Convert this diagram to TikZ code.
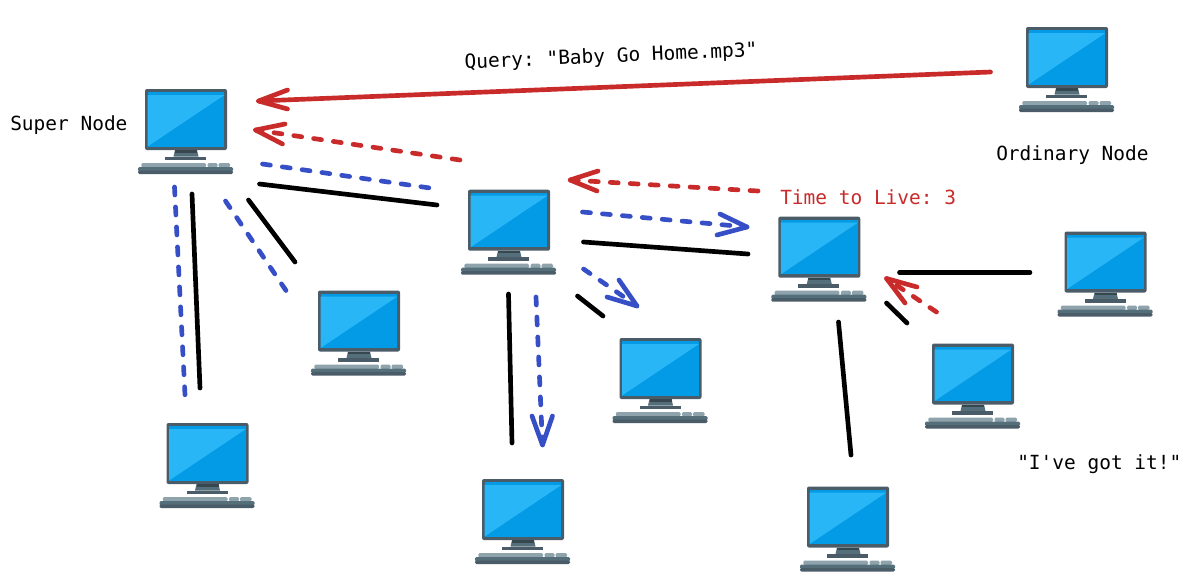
\documentclass[tikz,border=0pt]{standalone}
\usepackage{fontspec}
\setmonofont{DejaVu Sans Mono}
\definecolor{framec}{HTML}{4A5C68}
\definecolor{lightc}{HTML}{29B6F6}
\definecolor{darkc}{HTML}{039BE5}
\definecolor{standc}{HTML}{546E7A}
\definecolor{shadec}{HTML}{37474F}
\definecolor{keyc}{HTML}{8FA3AD}
\definecolor{redc}{HTML}{C92A2A}
\definecolor{bluec}{HTML}{364FC7}
\tikzset{
  conn/.style={line width=3.5pt,line cap=round,line join=round},
  solidk/.style={conn,draw=black},
  redline/.style={conn,draw=redc},
  blueline/.style={conn,draw=bluec},
  dashy/.style={dash pattern=on 6pt off 9pt},
  lab/.style={inner sep=0pt,anchor=west,font=\ttfamily\fontsize{14.6}{16}\selectfont},
  computer/.pic={
    \node[minimum width=71.25pt,minimum height=63.75pt,inner sep=0pt] (-box) at (40.5,42) {};
    \fill[framec,rounded corners=1.5pt] (0,0) rectangle (82,61);
    \fill[darkc] (2.6,3) rectangle (79.4,57.5);
    \fill[lightc] (2.6,6) -- (79.4,6) -- (2.6,57.5) -- cycle;
    \fill[standc] (30,61) -- (52,61) -- (53.5,67.5) -- (28.5,67.5) -- cycle;
    \fill[shadec] (30,61) rectangle (52,63.5);
    \fill[framec] (20,67.5) rectangle (61,71);
    \fill[keyc,rounded corners=1pt] (-3.7,74) rectangle (61,78.5);
    \fill[keyc,rounded corners=1pt] (62.5,74) rectangle (72.5,78.5);
    \fill[keyc,rounded corners=1pt] (73.5,74) rectangle (85,78.5);
    \fill[standc,rounded corners=1pt] (-7,78) rectangle (88,82.5);
    \fill[framec,rounded corners=1pt] (-7,81.5) rectangle (88,85);
  }
}
\newcommand{\pc}[3]{\pic (#1) at (#2,#3) {computer};}
\begin{document}
\begin{tikzpicture}[x=0.75pt,y=-0.75pt]
\useasboundingbox (0,0) rectangle (1190,587);
\fill[white] (0,0) rectangle (1190,587);
\pc{ca}{145}{89}
\pc{cb}{468}{189.7}
\pc{cc}{778.3}{216.7}
\pc{cd}{1026}{27}
\pc{ce}{1064.5}{231.5}
\pc{cf}{932}{343.5}
\pc{cg}{807}{486.5}
\pc{ch}{619.5}{338}
\pc{ci}{482}{479}
\pc{cj}{318}{290.5}
\pc{ck}{166.5}{423}

\node[lab] (lsuper) at (10,125.5) {Super Node};
\node[lab] (lord) at (996,155.5) {Ordinary Node};
\node[lab,text=redc] (lttl) at (780,197) {Time to Live: 3};
\node[lab] (lgot) at (1017,464) {"I've got it!"};
\node[lab,anchor=center,rotate=2.4] (lquery) at (611,57) {Query: "Baby Go Home.mp3"};

% query arrow
\coordinate (q1) at (990.5,72); \coordinate (q2) at (258.5,101);
\coordinate (q3) at (287.5,90); \coordinate (q4) at (287.5,109);
\draw[redline] (q1) -- (q2);
\draw[redline] (q3) -- (q2) -- (q4);
% super <-> middle
\coordinate (r1) at (460,160); \coordinate (r2) at (255.5,130);
\coordinate (r3) at (285,124); \coordinate (r4) at (282.5,144);
\draw[redline,dashy] (r1) -- (r2);
\draw[redline] (r3) -- (r2) -- (r4);
\coordinate (b1) at (262.5,164); \coordinate (b2) at (430,188);
\draw[blueline,dashy] (b1) -- (b2);
\coordinate (k1) at (259.5,184); \coordinate (k2) at (437,205);
\draw[solidk] (k1) -- (k2);
% middle <-> right
\coordinate (s1) at (758,191); \coordinate (s2) at (570,180);
\coordinate (s3) at (598,171); \coordinate (s4) at (597,191);
\draw[redline,dashy] (s1) -- (s2);
\draw[redline] (s3) -- (s2) -- (s4);
\coordinate (t1) at (582.5,212); \coordinate (t2) at (747,227);
\coordinate (t3) at (720,214); \coordinate (t4) at (717,235);
\draw[blueline,dashy] (t1) -- (t2);
\draw[blueline] (t3) -- (t2) -- (t4);
\coordinate (m1) at (583.5,242); \coordinate (m2) at (748,254);
\draw[solidk] (m1) -- (m2);
% middle -> lower right
\coordinate (u1) at (583.5,269); \coordinate (u2) at (637,306);
\coordinate (u3) at (619,280); \coordinate (u4) at (607,297);
\draw[blueline,dashy] (u1) -- (u2);
\draw[blueline] (u3) -- (u2) -- (u4);
\coordinate (n1) at (577.5,296); \coordinate (n2) at (603,316);
\draw[solidk] (n1) -- (n2);
% middle -> bottom
\coordinate (o1) at (508.5,294); \coordinate (o2) at (512,443);
\draw[solidk] (o1) -- (o2);
\coordinate (v1) at (536,297); \coordinate (v2) at (542.5,445);
\coordinate (v3) at (532,416); \coordinate (v4) at (552.5,416);
\draw[blueline,dashy] (v1) -- (v2);
\draw[blueline] (v3) -- (v2) -- (v4);
% super -> bottom
\coordinate (p1) at (192,194); \coordinate (p2) at (200,388);
\draw[solidk] (p1) -- (p2);
\coordinate (w1) at (174.5,187); \coordinate (w2) at (185,395);
\draw[blueline,dashy] (w1) -- (w2);
% super -> lower right
\coordinate (x1) at (248.5,200); \coordinate (x2) at (295,262);
\draw[solidk] (x1) -- (x2);
\coordinate (y1) at (225.5,201); \coordinate (y2) at (287,292);
\draw[blueline,dashy] (y1) -- (y2);
% right
\coordinate (h1) at (899.5,272.5); \coordinate (h2) at (1030,272.5);
\draw[solidk] (h1) -- (h2);
\coordinate (z1) at (936.5,312); \coordinate (z2) at (886.5,278.5);
\coordinate (z3) at (917,287); \coordinate (z4) at (905,303);
\draw[redline,dashy] (z1) -- (z2);
\draw[redline] (z3) -- (z2) -- (z4);
\coordinate (i1) at (886.5,303); \coordinate (i2) at (907,323);
\draw[solidk] (i1) -- (i2);
\coordinate (j1) at (838.5,322); \coordinate (j2) at (851,455);
\draw[solidk] (j1) -- (j2);
\end{tikzpicture}
\end{document}
